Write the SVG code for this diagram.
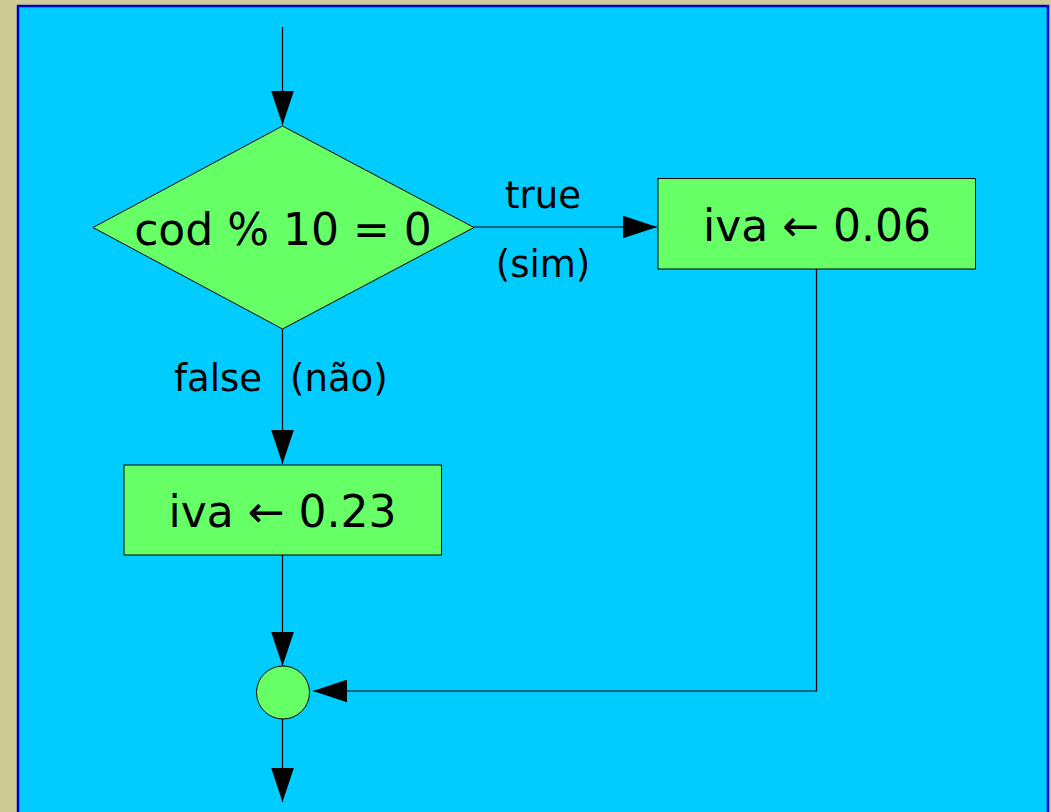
<svg xmlns="http://www.w3.org/2000/svg" width="1051" height="812" viewBox="0 0 1051 812">
  <style>
    .shape { fill: #66ff66; stroke: #000; stroke-width: 1; }
    .conn { fill: none; stroke: #000; stroke-width: 1.2; }
    .big { font-family: "DejaVu Sans", Verdana, sans-serif; font-size: 44px; fill: #000; text-anchor: middle; }
    .lbl { font-family: "DejaVu Sans", Verdana, sans-serif; font-size: 37px; fill: #000; }
  </style>
  <defs>
    <marker id="arr" markerUnits="userSpaceOnUse" markerWidth="34" markerHeight="23" viewBox="0 0 33 22" refX="33" refY="11" orient="auto">
      <path d="M0,0 L33,11 L0,22 Z" fill="#000"/>
    </marker>
  </defs>
  <rect x="0" y="0" width="1051" height="812" fill="#cfcb97"/>
  <rect x="18" y="6" width="1030" height="820" fill="#00ccff" stroke="#0000cc" stroke-width="2.5"/>

  <g id="connectors">
    <line class="conn" x1="282.5" y1="27" x2="282.5" y2="125" marker-end="url(#arr)"/>
    <line class="conn" x1="474" y1="227" x2="657" y2="227" marker-end="url(#arr)"/>
    <line class="conn" x1="282.5" y1="329" x2="282.5" y2="464" marker-end="url(#arr)"/>
    <line class="conn" x1="282.5" y1="555" x2="282.5" y2="666" marker-end="url(#arr)"/>
    <polyline class="conn" points="816.5,269 816.5,691 313,691" marker-end="url(#arr)"/>
    <line class="conn" x1="282.5" y1="719" x2="282.5" y2="802" marker-end="url(#arr)"/>
    <text class="lbl" x="543" y="208" text-anchor="middle">true</text>
    <text class="lbl" x="543" y="277" text-anchor="middle">(sim)</text>
    <text class="lbl" x="262" y="391" text-anchor="end">false</text>
    <text class="lbl" x="290" y="391">(não)</text>
  </g>

  <g id="decision">
    <polygon class="shape" points="282.5,126 474,227.5 282.5,329 93,227.5"/>
    <text class="big" x="283" y="245">cod % 10 = 0</text>
  </g>

  <g id="iva006">
    <rect class="shape" x="658" y="178.5" width="317.5" height="90.5"/>
    <text class="big" x="817" y="241">iva ← 0.06</text>
  </g>

  <g id="iva023">
    <rect class="shape" x="124" y="465" width="317.5" height="90"/>
    <text class="big" x="282.5" y="527">iva ← 0.23</text>
  </g>

  <g id="join">
    <circle class="shape" cx="283" cy="692.5" r="26.5"/>
  </g>
</svg>
